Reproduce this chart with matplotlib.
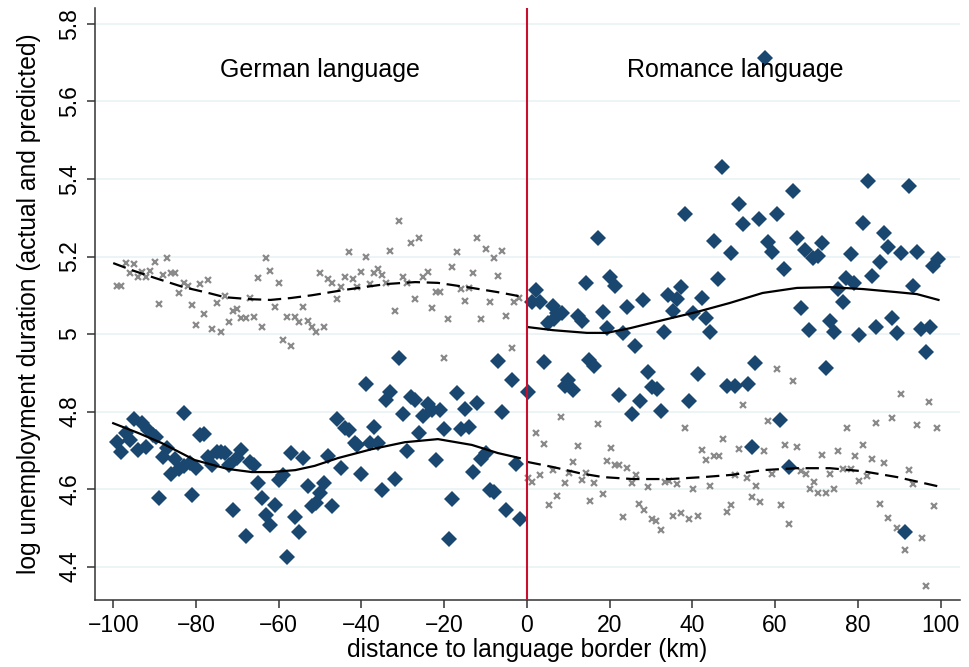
import matplotlib
matplotlib.use("Agg")
import matplotlib.pyplot as plt

plt.rcParams['font.family'] = ['Liberation Sans', 'DejaVu Sans']

# ---------------- data ----------------
# actual values, German side (diamonds)
x_act_de = [-99.2, -98, -97, -96, -95, -94, -93, -92, -91.7, -90.5, -89.7, -89, -88, -87, -86, -85, -84,
            -83, -82.8, -81.5, -81, -80, -79, -78, -77, -76, -75, -74, -73, -72, -71, -70, -69, -68,
            -67, -66, -65, -64, -63, -62, -61, -60, -59, -58, -57, -56, -55, -54, -53, -52, -51, -50,
            -49, -48, -47, -46, -45, -44, -43, -41.6, -41, -40, -39, -38, -37, -36, -35, -34, -33, -32,
            -31, -30, -29, -28, -27, -26, -25, -24, -23, -22, -21, -20, -18.9, -18, -17, -16, -15, -14,
            -13, -12, -11, -10, -9, -8, -7, -6, -5, -3.6, -2.7, -1.7]
y_act_de = [4.721, 4.695, 4.745, 4.726, 4.780, 4.700, 4.770, 4.708, 4.752, 4.739, 4.734, 4.577, 4.683, 4.705, 4.640, 4.677, 4.652,
            4.660, 4.796, 4.667, 4.585, 4.654, 4.739, 4.742, 4.683, 4.662, 4.695, 4.695, 4.693, 4.662, 4.546, 4.680, 4.700, 4.479,
            4.669, 4.662, 4.615, 4.577, 4.533, 4.507, 4.559, 4.623, 4.636, 4.425, 4.693, 4.528, 4.489, 4.680, 4.608, 4.556, 4.564, 4.590,
            4.615, 4.685, 4.556, 4.780, 4.654, 4.757, 4.752, 4.719, 4.714, 4.639, 4.871, 4.719, 4.760, 4.719, 4.597, 4.830, 4.850, 4.626,
            4.938, 4.794, 4.698, 4.837, 4.830, 4.745, 4.788, 4.819, 4.804, 4.675, 4.804, 4.755, 4.471, 4.574, 4.848, 4.755, 4.806, 4.760,
            4.644, 4.822, 4.677, 4.693, 4.597, 4.592, 4.930, 4.799, 4.546, 4.881, 4.665, 4.523]

# actual values, Romance side (diamonds)
x_act_ro = [0.2, 1.2, 2.1, 3.1, 4.1, 5.1, 6.3, 6.5, 7.2, 8.4, 9.2, 9.9, 11.1, 12.3, 13.3, 14.3, 15.0, 16.2,
            17.2, 18.4, 19.3, 20.0, 21.3, 22.2, 23.2, 24.2, 25.4, 26.1, 27.3, 28.0, 29.3, 30.2, 31.4, 32.4,
            33.1, 34.1, 35.3, 36.3, 37.2, 38.2, 39.2, 40.1, 41.3, 42.3, 43.3, 44.3, 45.2, 46.2, 47.2, 48.4,
            49.3, 50.3, 51.3, 52.2, 53.4, 54.4, 55.1, 56.1, 57.6, 58.3, 59.3, 60.5, 61.2, 62.2, 63.4, 64.3,
            65.3, 66.3, 67.2, 68.2, 69.2, 70.4, 71.3, 72.3, 73.3, 74.2, 75.2, 76.4, 77.1, 78.4, 79.1, 80.3,
            81.3, 82.5, 83.4, 84.4, 85.4, 86.3, 87.3, 88.3, 89.5, 90.4, 91.4, 92.4, 93.3, 94.3, 95.3, 96.5,
            97.5, 98.2, 99.4]
y_act_ro = [4.850, 5.083, 5.114, 5.083, 4.928, 5.028, 5.072, 5.039, 5.054, 5.054, 4.866, 4.881, 4.855, 5.046, 5.034, 5.132, 4.933, 4.917,
            5.248, 5.057, 5.015, 5.147, 5.124, 4.843, 5.003, 5.070, 4.794, 4.969, 4.827, 5.088, 4.902, 4.863, 4.858, 4.801,
            5.005, 5.100, 5.059, 5.090, 5.121, 5.310, 4.827, 5.054, 4.897, 5.093, 5.041, 5.005, 5.240, 5.142, 5.431, 4.866,
            5.209, 4.866, 5.335, 5.284, 4.871, 4.708, 4.925, 5.297, 5.712, 5.237, 5.212, 5.310, 4.778, 5.168, 4.657, 5.369,
            5.248, 5.067, 5.217, 5.010, 5.196, 5.201, 5.235, 4.912, 5.034, 5.005, 5.116, 5.083, 5.145, 5.206, 5.132, 4.997,
            5.287, 5.395, 5.150, 5.018, 5.186, 5.261, 5.225, 5.041, 5.003, 5.209, 4.489, 5.382, 5.124, 5.212, 5.013, 4.954,
            5.018, 5.175, 5.193]

# predicted values, German side (crosses)
x_pred_de = [-99, -98, -97, -96, -95, -94, -93, -92, -91, -90, -89, -88, -87, -86, -85, -84, -83, -82, -81, -80,
             -79, -78, -77, -76, -75, -74, -73, -72, -71, -70, -69, -68, -67, -66, -65, -64, -63, -62, -61, -60,
             -59, -58, -57, -56, -55, -54, -53, -52, -51, -50, -49, -48, -47, -46, -45, -44, -43, -42, -41, -40,
             -39, -38, -37, -36, -35, -34, -33, -32, -31, -30, -29, -28, -27, -26, -25, -24, -23, -22, -21, -20,
             -19, -18, -17, -16, -15, -14, -13, -12, -11, -10, -9, -8, -7, -6, -5, -3.6, -3, -2]
y_pred_de = [5.124, 5.124, 5.183, 5.157, 5.180, 5.147, 5.160, 5.147, 5.163, 5.186, 5.077, 5.152, 5.196, 5.157, 5.157, 5.106, 5.132, 5.124, 5.075, 5.023,
             5.129, 5.052, 5.139, 5.013, 5.080, 5.005, 5.098, 5.031, 5.059, 5.065, 5.041, 5.041, 5.093, 5.044, 5.145, 5.018, 5.196, 5.163, 5.070, 5.132,
             4.985, 5.044, 4.969, 5.044, 5.031, 5.070, 5.034, 5.018, 5.005, 5.157, 5.018, 5.142, 5.132, 5.090, 5.121, 5.147, 5.212, 5.142, 5.121, 5.160,
             5.199, 5.129, 5.157, 5.168, 5.152, 5.132, 5.214, 5.059, 5.292, 5.147, 5.132, 5.235, 5.090, 5.248, 5.147, 5.160, 5.067, 5.108, 5.108, 4.938,
             5.039, 5.173, 5.212, 5.116, 5.085, 5.119, 5.157, 5.248, 5.039, 5.219, 5.083, 5.196, 5.150, 5.214, 5.046, 4.964, 5.083, 5.093]

# predicted values, Romance side (crosses)
x_pred_ro = [0.3, 1.2, 2.2, 3.1, 4.1, 5.3, 6.3, 7.3, 8.2, 9.2, 10.2, 11.1, 12.3, 13.3, 14.3, 15.2, 16.2, 17.2, 18.4, 19.3,
             20.3, 21.3, 22.2, 23.2, 24.2, 25.4, 26.4, 27.1, 28.3, 29.3, 30.2, 31.2, 32.4, 33.4, 34.3, 35.3, 36.3, 37.2, 38.2, 39.2,
             40.1, 41.3, 42.3, 43.3, 44.3, 45.2, 46.4, 47.4, 48.4, 49.3, 50.3, 51.2, 52.2, 53.2, 54.4, 55.4, 56.3, 57.3, 58.3, 59.3,
             60.5, 61.4, 62.4, 63.4, 64.3, 65.3, 66.3, 67.5, 68.4, 69.4, 70.4, 71.3, 72.3, 73.3, 74.2, 75.2, 76.4, 77.4, 78.4, 79.3,
             80.3, 81.3, 82.2, 83.4, 84.4, 85.4, 86.3, 87.3, 88.3, 89.5, 90.4, 91.4, 92.4, 93.3, 94.3, 95.5, 96.5, 97.2, 98.4, 99.2]
y_pred_ro = [4.628, 4.618, 4.745, 4.636, 4.716, 4.559, 4.649, 4.582, 4.786, 4.615, 4.641, 4.670, 4.711, 4.623, 4.641, 4.569, 4.615, 4.768, 4.587, 4.672,
             4.706, 4.662, 4.662, 4.528, 4.654, 4.615, 4.636, 4.561, 4.546, 4.605, 4.523, 4.517, 4.494, 4.618, 4.620, 4.530, 4.613, 4.538, 4.757, 4.523,
             4.600, 4.530, 4.700, 4.675, 4.608, 4.685, 4.685, 4.729, 4.541, 4.559, 4.636, 4.703, 4.817, 4.628, 4.579, 4.608, 4.566, 4.698, 4.775, 4.639,
             4.910, 4.559, 4.714, 4.510, 4.879, 4.708, 4.646, 4.639, 4.600, 4.618, 4.590, 4.688, 4.590, 4.639, 4.600, 4.698, 4.652, 4.757, 4.652, 4.685,
             4.620, 4.714, 4.634, 4.677, 4.770, 4.561, 4.667, 4.525, 4.783, 4.499, 4.845, 4.443, 4.649, 4.613, 4.765, 4.473, 4.350, 4.825, 4.556, 4.757]

# smoothed fits (solid = actual, dashed = predicted)
x_fit_act_de = [-100, -94, -88.3, -80.3, -72.3, -66.5, -61.7, -56, -51.3, -45.7, -37.5, -29.5, -21.5, -13.3, -7, -1.7]
y_fit_act_de = [4.770, 4.745, 4.719, 4.675, 4.652, 4.644, 4.644, 4.649, 4.660, 4.680, 4.703, 4.721, 4.729, 4.714, 4.693, 4.680]
x_fit_pred_de = [-100, -95, -90, -83, -77, -73, -67, -62, -57, -52, -44, -34, -27, -21.5, -13.3, -7, -2]
y_fit_pred_de = [5.183, 5.163, 5.145, 5.121, 5.106, 5.095, 5.090, 5.088, 5.093, 5.100, 5.114, 5.129, 5.134, 5.132, 5.119, 5.108, 5.098]
x_fit_act_ro = [0.2, 6.3, 14.5, 19.3, 24.9, 32.9, 41.1, 49, 57, 65.3, 73.3, 81.3, 89.5, 94.3, 99.5]
y_fit_act_ro = [5.018, 5.010, 5.003, 5.003, 5.015, 5.036, 5.057, 5.080, 5.106, 5.119, 5.121, 5.116, 5.108, 5.103, 5.088]
x_fit_pred_ro = [0.2, 6.3, 12.8, 18.4, 25.6, 34.6, 42.6, 49.8, 57, 65.3, 73.3, 81.3, 89.5, 99.5]
y_fit_pred_ro = [4.670, 4.657, 4.641, 4.631, 4.626, 4.626, 4.631, 4.637, 4.649, 4.654, 4.654, 4.646, 4.631, 4.607]

x_ticks = [-100, -80, -60, -40, -20, 0, 20, 40, 60, 80, 100]
x_ticklabels = ["\u2212100", "\u221280", "\u221260", "\u221240", "\u221220", "0", "20", "40", "60", "80", "100"]
y_ticks = [4.4, 4.6, 4.8, 5.0, 5.2, 5.4, 5.6, 5.8]
y_ticklabels = ["4.4", "4.6", "4.8", "5", "5.2", "5.4", "5.6", "5.8"]

# ---------------- drawing ----------------
navy = '#1a476f'
grey = '#8a8a8a'

fig = plt.figure(figsize=(9.69, 6.67), dpi=100)
ax = fig.add_axes([95/969, 67/667, 865/969, 592/667])

for v in y_ticks:
    ax.axhline(v, color='#eaf2f3', lw=1.2, zorder=0)

ax.plot(x_pred_de, y_pred_de, 'x', color=grey, ms=4.4, mew=1.6, zorder=2)
ax.plot(x_pred_ro, y_pred_ro, 'x', color=grey, ms=4.4, mew=1.6, zorder=2)
ax.plot(x_act_de, y_act_de, 'D', color=navy, ms=7.8, mew=0, zorder=3)
ax.plot(x_act_ro, y_act_ro, 'D', color=navy, ms=7.8, mew=0, zorder=3)

ax.plot(x_fit_act_de, y_fit_act_de, '-', color='black', lw=1.6, zorder=4)
ax.plot(x_fit_act_ro, y_fit_act_ro, '-', color='black', lw=1.6, zorder=4)
ax.plot(x_fit_pred_de, y_fit_pred_de, '--', color='black', lw=1.6, dashes=(6, 3), zorder=4)
ax.plot(x_fit_pred_ro, y_fit_pred_ro, '--', color='black', lw=1.6, dashes=(6, 3), zorder=4)

ax.axvline(0, color='#c8102e', lw=1.5, zorder=5)

ax.text(-50.1, 5.681, "German language", ha='center', va='center', fontsize=18)
ax.text(50.3, 5.681, "Romance language", ha='center', va='center', fontsize=18)

ax.set_xlim(-104.4, 104.7)
ax.set_ylim(4.314, 5.841)
ax.set_xticks(x_ticks)
ax.set_xticklabels(x_ticklabels)
ax.set_yticks(y_ticks)
ax.set_yticklabels(y_ticklabels, rotation=90, va='center')

for s in ['top', 'right']:
    ax.spines[s].set_visible(False)
for s in ['left', 'bottom']:
    ax.spines[s].set_linewidth(1.1)
    ax.spines[s].set_color('#333333')

ax.tick_params(axis='both', direction='out', length=6, width=1.1, color='#333333', labelsize=16.5, pad=4)
ax.set_xlabel("distance to language border (km)", fontsize=17.7, labelpad=1)
ax.set_ylabel("log unemployment duration (actual and predicted)", fontsize=17.7, labelpad=12)

fig.savefig("out.png", dpi=100)
